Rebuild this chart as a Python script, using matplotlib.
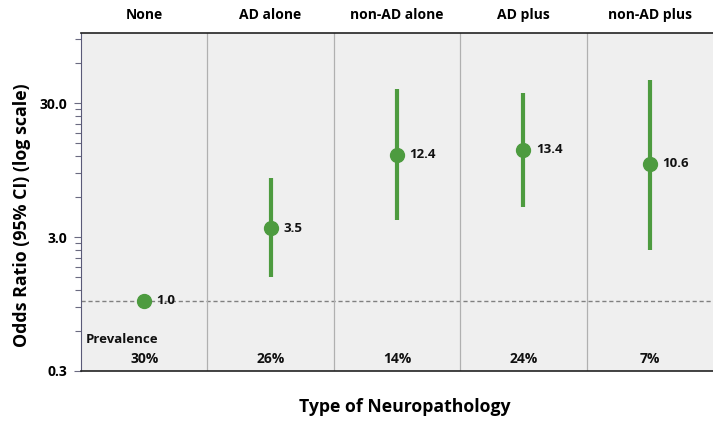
import matplotlib.pyplot as plt
import numpy as np

plt.rcParams['font.family'] = ['Open Sans', 'DejaVu Sans']
plt.rcParams['font.weight'] = 'bold'

groups = ['None', 'AD alone', 'non-AD alone', 'AD plus', 'non-AD plus']
odds = [1.0, 3.5, 12.4, 13.4, 10.6]
ci_low = [np.nan, 1.5, 4.0, 5.0, 2.4]
ci_high = [np.nan, 8.3, 38.0, 35.6, 45.0]
prevalence = ['30%', '26%', '14%', '24%', '7%']

green = '#4d9b3f'

fig = plt.figure(figsize=[7.13, 4.24], dpi=100)
ax = fig.add_axes([0.1136, 0.125, 0.8864, 0.797])
ax.set_facecolor('#efefef')

x = np.arange(len(groups))

ax.axhline(1.0, color='#808080', linestyle=(0, (3, 2)), linewidth=1, zorder=1)
for b in x[:-1] + 0.5:
    ax.axvline(b, color='#b0b0b0', linewidth=0.9, zorder=1)

ax.vlines(x, ci_low, ci_high, color=green, linewidth=3, zorder=2)
ax.plot(x, odds, 'o', color=green, markersize=10, zorder=3, linestyle='none')
for xi, v in zip(x, odds):
    ax.annotate('%.1f' % v, (xi, v), xytext=(9, 0), textcoords='offset points',
                va='center', ha='left', fontsize=9.5, fontweight='bold', color='#111111')

ax.set_yscale('log')
ax.set_ylim(0.3, 100)
ax.set_xlim(-0.5, 4.5)
ax.set_yticks([0.3, 3.0, 30.0])
ax.set_yticklabels(['0.3', '3.0', '30.0'], fontsize=10, fontweight='bold')
minor = [d * k for d in [0.3, 3, 30] for k in range(2, 10) if d * k <= 100]
ax.set_yticks(minor, minor=True)
ax.yaxis.set_minor_formatter(plt.NullFormatter())
ax.tick_params(axis='y', which='both', direction='out', color='#6a6a80', length=4, width=0.8)
ax.tick_params(axis='y', which='major', length=5, pad=5)

ax.xaxis.tick_top()
ax.set_xticks(x)
ax.set_xticklabels(groups, fontsize=10, fontweight='bold')
ax.tick_params(axis='x', length=0, pad=8)

ax.spines['right'].set_visible(False)
ax.spines['left'].set_color('#5a5a78')
ax.spines['top'].set_color('#222222')
ax.spines['bottom'].set_color('#222222')
ax.spines['top'].set_linewidth(1.2)
ax.spines['bottom'].set_linewidth(1.2)

ax.text(-0.46, 0.52, 'Prevalence', fontsize=9.5, fontweight='bold', ha='left', va='center',
        color='#111111')
for xi, p in zip(x, prevalence):
    ax.text(xi, 0.37, p, fontsize=10, fontweight='bold', ha='center', va='center', color='#111111')

fig.text(0.031, 0.493, 'Odds Ratio (95% CI) (log scale)', fontsize=12.8, fontweight='bold',
         rotation=90, ha='center', va='center')
fig.text(0.568, 0.04, 'Type of Neuropathology', fontsize=12.7, fontweight='bold', ha='center',
         va='center')

plt.savefig('out.png', dpi=100)
